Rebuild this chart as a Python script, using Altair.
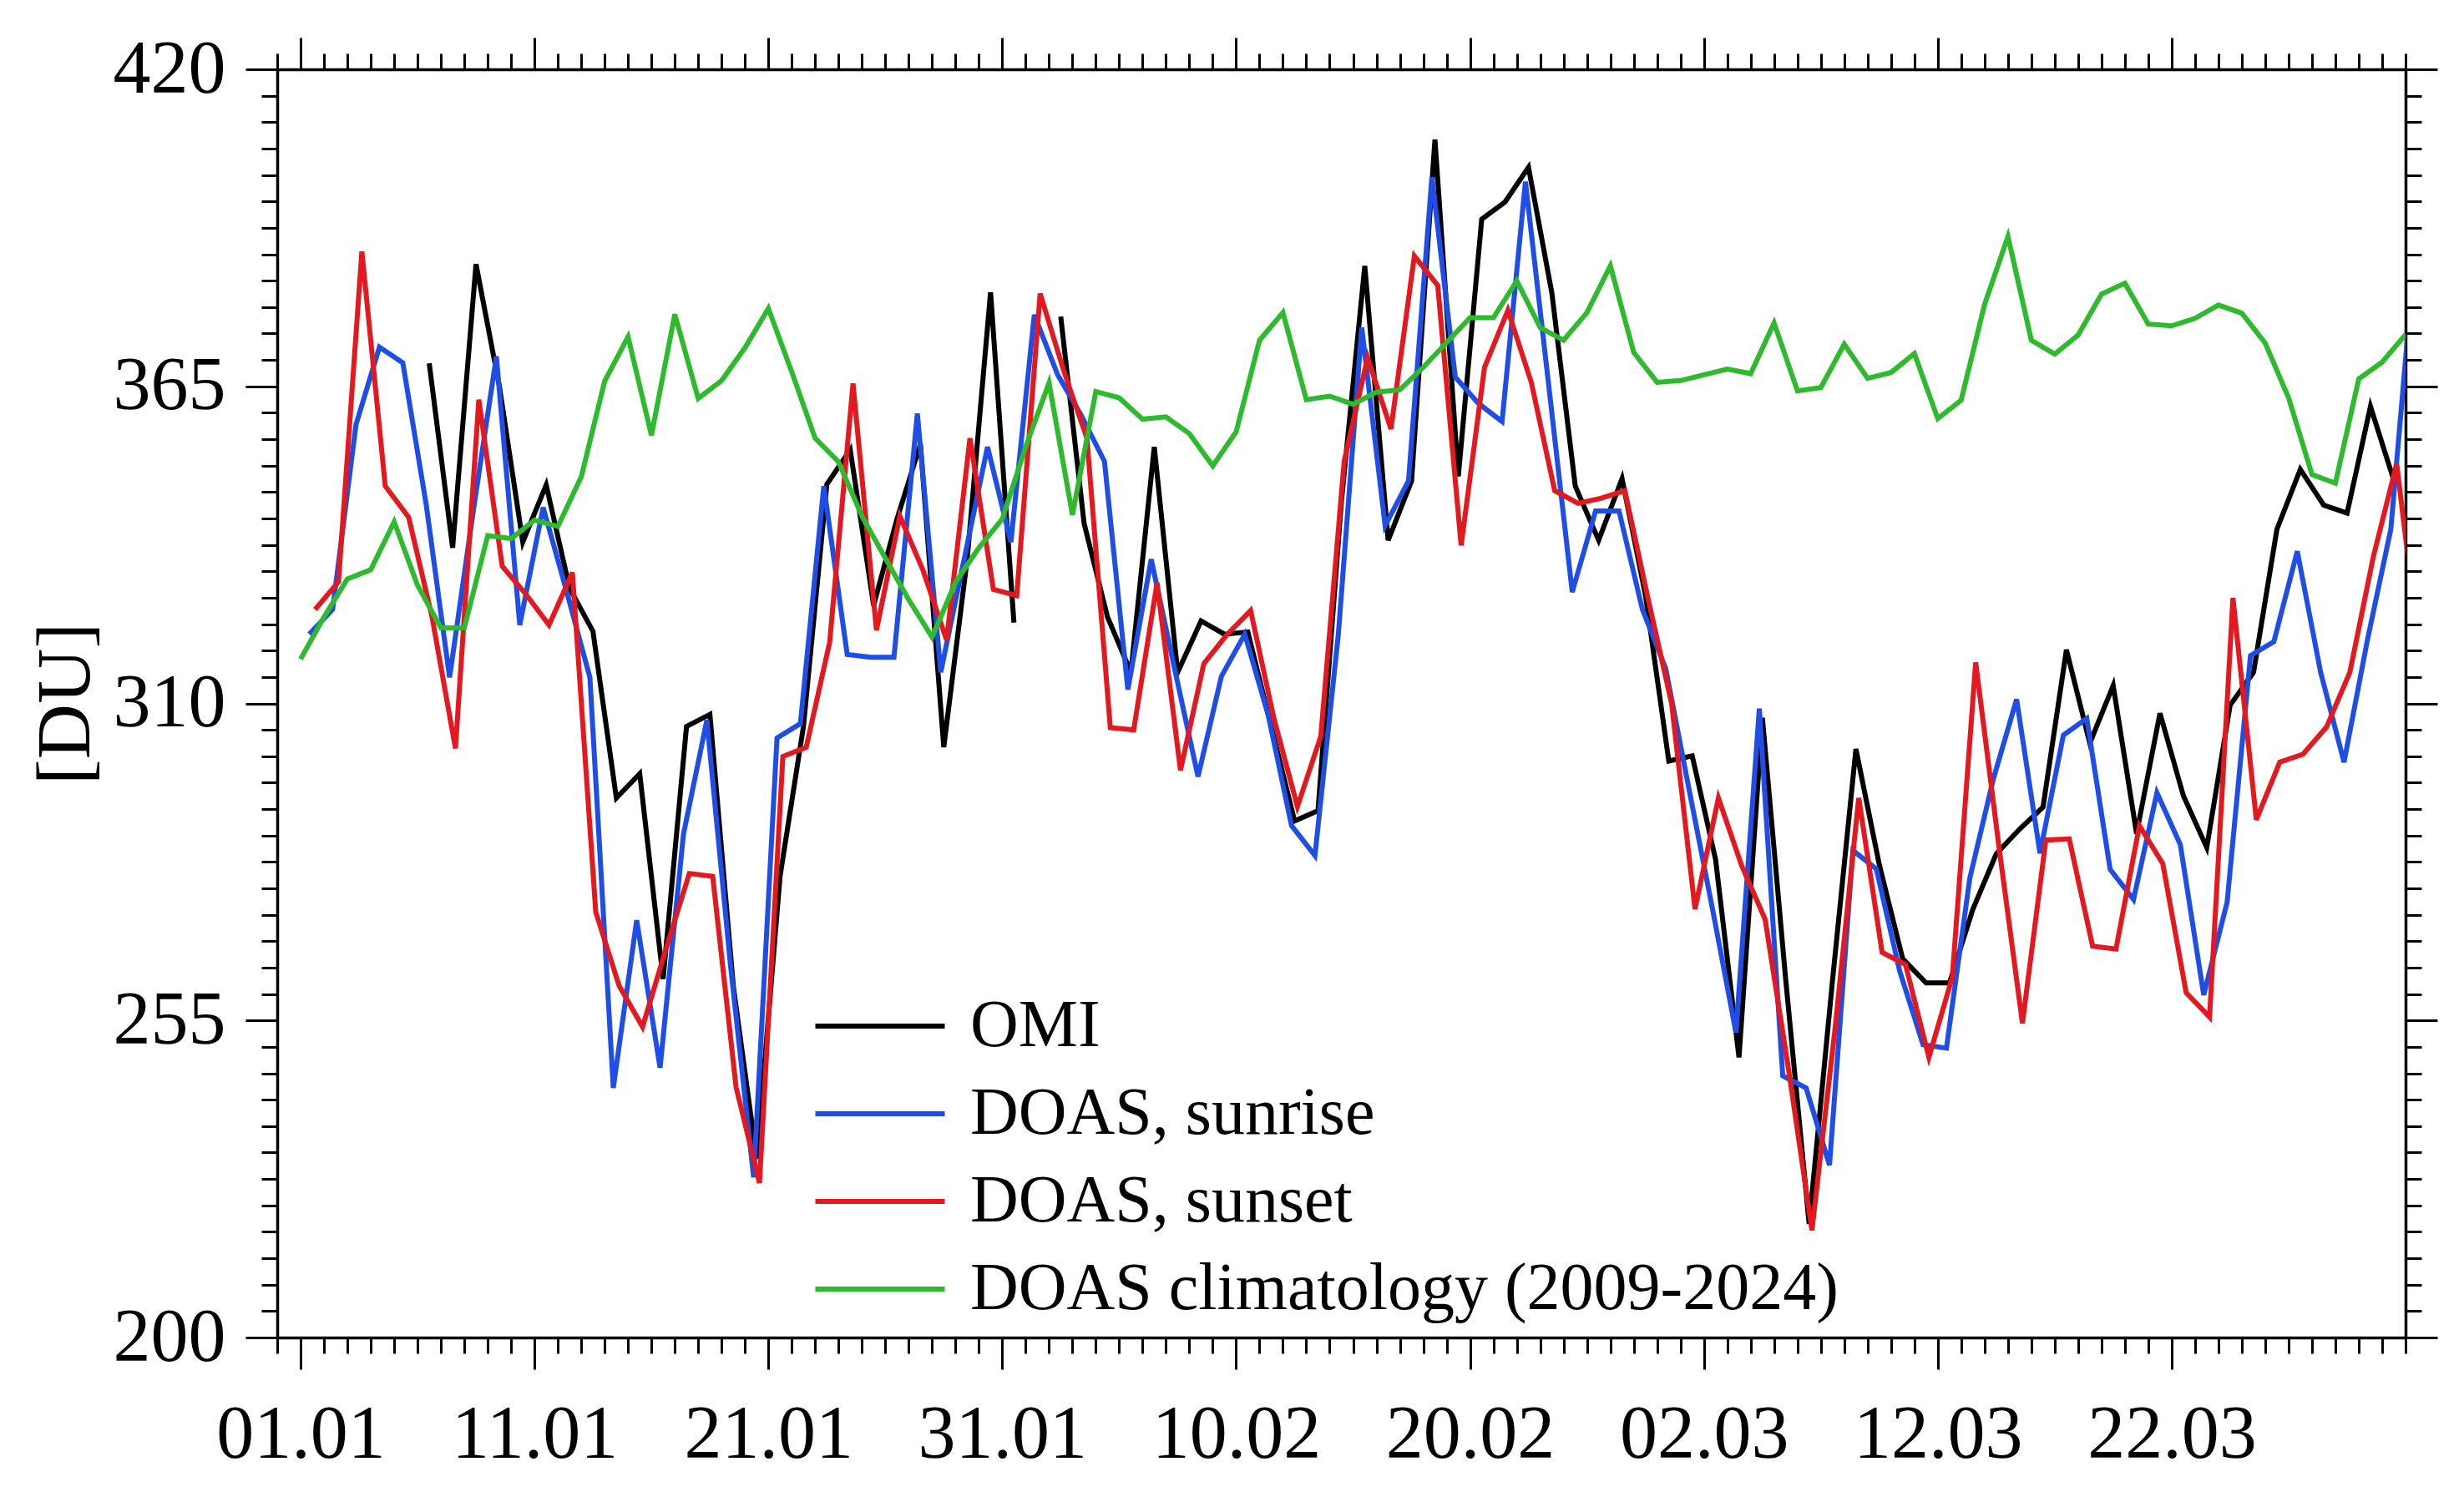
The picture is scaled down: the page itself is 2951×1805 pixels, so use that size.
import altair as alt
import pandas as pd

# ---------------- data ----------------
X_LABELS = ["01.01", "11.01", "21.01", "31.01", "10.02", "20.02", "02.03", "12.03", "22.03"]
SERIES = ["OMI", "DOAS, sunrise", "DOAS, sunset", "DOAS climatology (2009-2024)"]
COLORS = ["#000000", "#1f4ee6", "#e3191f", "#2dbb2d"]

# OMI overpass values, first value on day index 5, plotted at midday (None = no data)
OMI_START = 5
OMI_OFFSET = 0.5
OMI = [369, 337, 386.2, 365, 338, 347.9, 330, 322.5, 293.6, 297.8,
       262.2, 306, 308.1, 261, 231, 280, 306, 348, 354, 327,
       342, 355, 302.4, 335, 381.3, 324, None, 377.1, 341.2, 325,
       315.4, 354.5, 315.4, 324.3, 322, 322.4, 306, 289.6, 291.4, 345,
       385.9, 338.3, 348.6, 407.8, 349.4, 394, 397, 403, 381.2, 347.7,
       338.3, 349, 328.8, 300, 300.9, 282.9, 248.6, 307.5, 262, 219.7,
       262, 302.1, 282, 265.7, 261.5, 261.5, 274.3, 283.9, 288.2, 292,
       319.3, 303.1, 313.1, 287.4, 308.3, 294, 285, 309.7, 315.4, 340.2,
       350.6, 344.4, 343, 361.5, 348.7]

# DOAS sunrise, from day index 0, plotted in the morning
SUNRISE_OFFSET = 0.37
SUNRISE = [322, 326.3, 358.4, 371.8, 369.1, 344.5, 314.5, 343, 370.2, 323.6,
           344, 329.5, 314.5, 243.3, 272.4, 246.8, 287.3, 307.1, 265, 227.8,
           304, 306.5, 347.7, 318.5, 318, 318, 360.3, 315.4, 335, 354.5,
           338, 377.4, 367, 360, 352, 312.4, 335, 316, 297.3, 314.7,
           322, 308, 288.8, 283.6, 322, 375.2, 340.8, 348.6, 401.3, 366.6,
           362, 358.9, 400.5, 365, 329.3, 343.4, 343.4, 326.3, 316, 295,
           274.3, 252.9, 309.1, 245.4, 243.3, 229.9, 284.5, 281.3, 263.6, 250.8,
           250.2, 279.7, 296.8, 310.7, 284, 304.5, 307.4, 281.2, 276, 294.5,
           285.5, 259.4, 275.5, 318.3, 320.7, 336.4, 315.4, 299.8, 321, 340.2,
           387]

# DOAS sunset, from day index 0, plotted in the afternoon
SUNSET_OFFSET = 0.62
SUNSET = [326.3, 331.1, 388.4, 347.7, 342.3, 325, 302.2, 362.7, 333.8, 329,
          323.6, 332.7, 273.8, 261, 253.9, 267.4, 280.5, 280, 243.4, 226.8,
          300.8, 302.4, 320.6, 365.5, 322.7, 342.5, 333, 321, 356, 329.8,
          328.7, 381.1, 367.8, 356, 305.8, 305.4, 330.9, 298.4, 316.9, 322,
          326.1, 307.3, 292.1, 304.3, 352, 370, 357.6, 387.6, 382.5, 337.4,
          368.3, 378.2, 365.7, 346.9, 344.7, 345.6, 346.9, 328, 310, 274.3,
          293.6, 281.8, 272.5, 246.5, 218.6, 254, 293.6, 266.8, 264.7, 248.6,
          262.5, 317.1, 285, 254.5, 286.3, 286.5, 267.9, 267.4, 288.8, 282.2,
          259.8, 255.6, 328.3, 289.8, 299.8, 301.2, 305.9, 315.4, 335.4, 351.6,
          318]

# DOAS climatology 2009-2024, one value per day index 0..90
CLIM = [317.7, 325, 331.6, 333.2, 341.5, 330.5, 323.1, 323.1, 339.1, 338.6,
        341.8, 340.7, 349.3, 365.9, 373.6, 356.5, 377.5, 362.9, 366, 371.7,
        378.5, 367.5, 356, 351.9, 342.5, 335.2, 328, 321.5, 331, 337,
        342, 354.5, 365.6, 342.7, 364.1, 363, 359.3, 359.7, 356.8, 351.2,
        357.1, 373, 377.8, 362.7, 363.3, 361.9, 364, 364.4, 368.3, 372.6,
        376.9, 376.9, 383.3, 375.2, 373, 377.8, 385.9, 370.9, 365.7, 366,
        367, 368, 367.2, 376, 364.2, 364.8, 372.3, 366.4, 367.4, 370.7,
        359.4, 362.6, 379.2, 391, 373, 370.6, 373.9, 381, 382.9, 375.8,
        375.5, 376.8, 379.1, 377.7, 372.5, 363, 349.7, 348.2, 366.3, 369.2,
        374]

# ---------------- table ----------------
rows = []


def add(series, start, offset, values):
    seg = 0
    for i, v in enumerate(values):
        if v is None:
            seg += 1
            continue
        rows.append({"series": series, "seg": f"{series}-{seg}",
                     "day": start + i + offset, "du": v})


add(SERIES[0], OMI_START, OMI_OFFSET, OMI)
add(SERIES[1], 0, SUNRISE_OFFSET, SUNRISE)
add(SERIES[2], 0, SUNSET_OFFSET, SUNSET)
add(SERIES[3], 0, 0.0, CLIM)
df = pd.DataFrame(rows)

FONT = "Liberation Serif"
x_scale = alt.Scale(domain=[-1, 90], nice=False, zero=False)
y_scale = alt.Scale(domain=[200, 420], nice=False, zero=False)

x_ticks = list(range(-1, 91))
y_ticks = [round(200 + k * 55 / 12, 6) for k in range(49)]

label_arr = "[" + ",".join(f"'{s}'" for s in X_LABELS) + "]"
x_major = "datum.value % 10 === 0 && datum.value < 90"
y_major = "abs((datum.value - 200) / 55 - round((datum.value - 200) / 55)) < 0.001"

common = dict(domainColor="black", domainWidth=3.5, tickColor="black", tickWidth=3,
              grid=False, labelOverlap=False, labelFont=FONT, labelColor="black",
              labelFlush=False, labelBound=False, labelLimit=2000)

x_bottom = alt.Axis(orient="bottom", values=x_ticks, title=None,
                    labelExpr=f"{x_major} ? {label_arr}[datum.value / 10] : ''",
                    tickSize={"condition": {"test": x_major, "value": 38}, "value": 19},
                    labelFontSize=90, labelPadding=34, **common)
x_top = alt.Axis(orient="top", values=x_ticks, title=None, labels=False,
                 tickSize={"condition": {"test": x_major, "value": 38}, "value": 19},
                 **common)
y_left = alt.Axis(orient="left", values=y_ticks, title="[DU]",
                  labelExpr=f"{y_major} ? format(datum.value, '.0f') : ''",
                  tickSize={"condition": {"test": y_major, "value": 38}, "value": 19},
                  labelFontSize=90, labelPadding=24,
                  titleFont=FONT, titleFontSize=92, titleFontWeight="normal",
                  titleColor="black", titlePadding=10, **common)
y_right = alt.Axis(orient="right", values=y_ticks, title=None, labels=False,
                   tickSize={"condition": {"test": y_major, "value": 38}, "value": 19},
                   **common)

# legend symbol: a horizontal line path twice as long as the reserved symbol box
LEGEND_LINE = "M-2,0L2,0"

lines = alt.Chart(df).mark_line(strokeWidth=6, clip=True).encode(
    x=alt.X("day:Q", scale=x_scale, axis=x_bottom),
    y=alt.Y("du:Q", scale=y_scale, axis=y_left),
    color=alt.Color("series:N", sort=SERIES,
                    scale=alt.Scale(domain=SERIES, range=COLORS),
                    legend=alt.Legend(title=None, orient="none", legendX=680, legendY=1104,
                                      symbolType=LEGEND_LINE, symbolSize=6006,
                                      symbolStrokeWidth=6, labelFont=FONT,
                                      labelFontSize=80, labelColor="black",
                                      labelOffset=66, rowPadding=23, padding=0,
                                      labelLimit=3000)),
    detail="seg:N",
)

frame = alt.Chart(df).mark_line(opacity=0, clip=True).encode(
    x=alt.X("day:Q", scale=x_scale, axis=x_top),
    y=alt.Y("du:Q", scale=y_scale, axis=y_right),
    detail="seg:N",
)

chart = alt.layer(lines, frame).resolve_axis(x="independent", y="independent").properties(
    width=2549, height=1519,
    autosize=alt.AutoSizeParams(type="none"),
    padding={"left": 324, "top": 75, "right": 60, "bottom": 190},
    background="white",
).configure_view(stroke=None)

chart.save("out.html", embed_options={"renderer": "svg", "actions": False})
